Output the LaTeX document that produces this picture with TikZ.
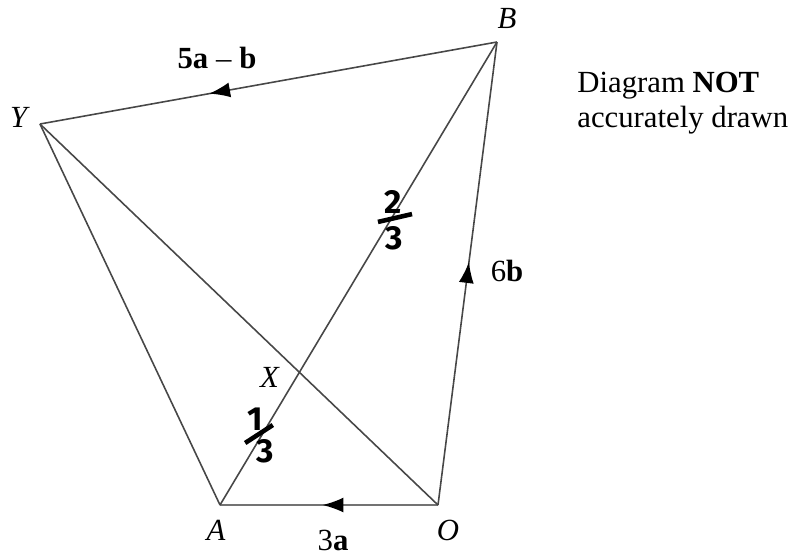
\documentclass[tikz,border=0pt]{standalone}
\usepackage{fontspec}
\setmainfont{Liberation Serif}
\newfontfamily\handfont{Fira Sans}
\usetikzlibrary{arrows.meta,decorations.markings}
\begin{document}
\begin{tikzpicture}[
  x=0.02cm, y=-0.02cm,
  font=\fontsize{17.5}{20}\selectfont,
  side/.style={line width=0.9pt, black!72},
  midarrow/.style={postaction={decorate}, decoration={markings,
    mark=at position #1 with {\arrow{Latex[length=0.42cm,width=0.3cm,black]}}}},
  lab/.style={inner sep=0pt},
  hand/.style={font=\handfont\bfseries\fontsize{19}{20}\selectfont, inner sep=0pt},
  bar/.style={fill=black, inner sep=0pt, minimum height=2.6pt}
]
\useasboundingbox (0,0) rectangle (805,556);
% points of the figure
\coordinate (B) at (497,42);
\coordinate (Y) at (40,124);
\coordinate (A) at (220,505);
\coordinate (O) at (438,505);
\coordinate (X) at (299,372);

% sides
\draw[side, midarrow=0.63] (B) -- (Y);
\draw[side, midarrow=0.525] (O) -- (B);
\draw[side, black!55, midarrow=0.53] (O) -- (A);
\draw[side] (A) -- (B);
\draw[side] (Y) -- (A);
\draw[side] (Y) -- (O);

% point labels
\node[lab] (labB) at (507,18) {\textit{B}};
\node[lab] (labY) at (20,117) {\textit{Y}};
\node[lab] (labX) at (270,377) {\textit{X}};
\node[lab] (labA) at (216,530) {\textit{A}};
\node[lab] (labO) at (448,530) {\textit{O}};

% vector labels
\node[lab] (vecYB) at (217,58) {\textbf{5a} – \textbf{b}};
\node[lab] (vecOB) at (507,271) {6\textbf{b}};
\node[lab] (vecOA) at (333,540) {3\textbf{a}};

% note
\node[lab, anchor=west, align=left] (note) at (577,103)
  {Diagram \textbf{NOT}\\accurately drawn};

% hand written ratios
\node[hand] (two) at (393,202) {2};
\node[bar, minimum width=0.7cm, rotate=13] (barone) at (395,218) {};
\node[hand] (threeA) at (394,238) {3};
\node[hand] (one) at (255,419) {1};
\node[bar, minimum width=0.66cm, rotate=33] (bartwo) at (259,434) {};
\node[hand] (threeB) at (265,451) {3};
\end{tikzpicture}
\end{document}
